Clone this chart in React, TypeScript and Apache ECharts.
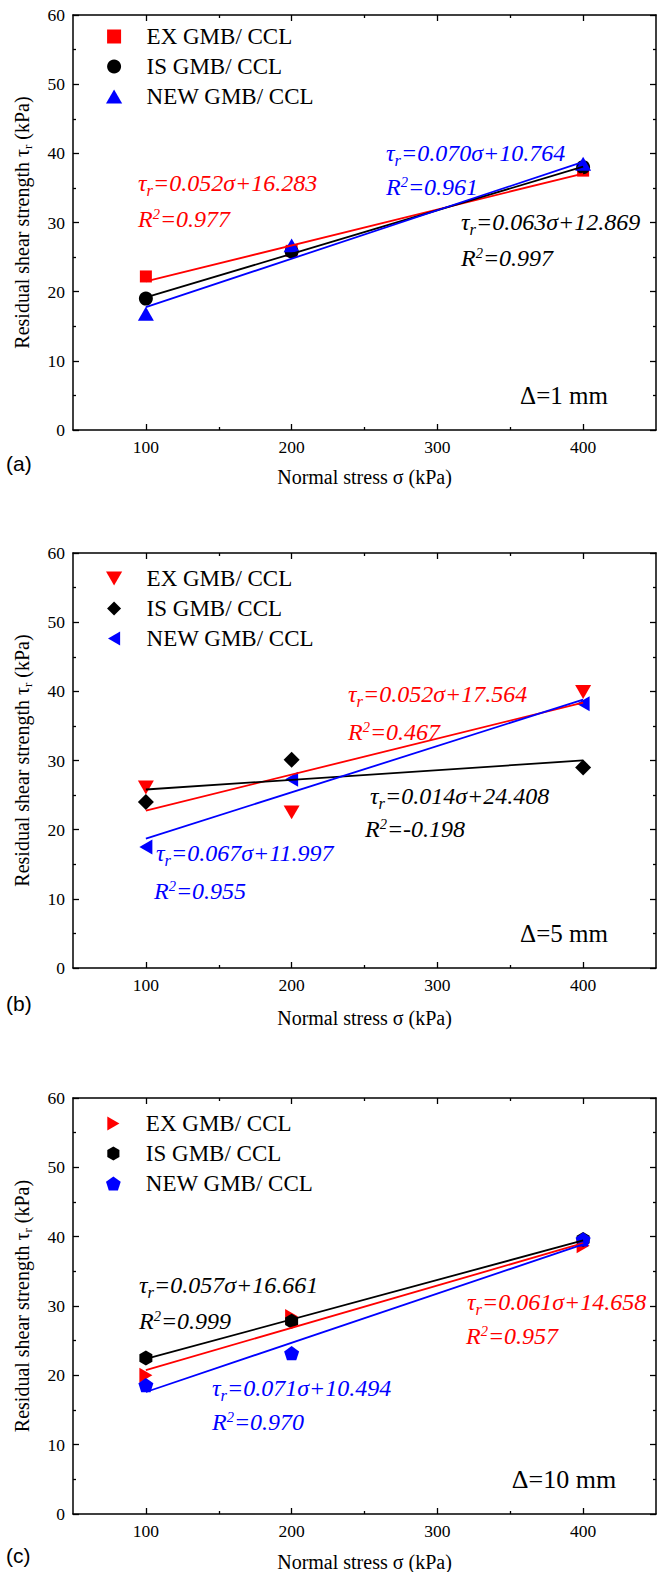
import React, { useEffect, useRef } from 'react';
import * as echarts from 'echarts';

const SERIF = '"Liberation Serif", "Times New Roman", serif';
const SANS = '"Liberation Sans", Arial, sans-serif';

// ---- data -------------------------------------------------------------
const stressKPa = [100, 200, 400];
const xTickValues = [100, 200, 300, 400];
const xMinorValues = [150, 250, 350];
const seriesNames = ['EX GMB/ CCL', 'IS GMB/ CCL', 'NEW GMB/ CCL'];
const seriesColors = ['#ff0000', '#000000', '#0000ff'];
const panelLetters = ['(a)', '(b)', '(c)'];
const displacementLabels = ['Δ=1 mm', 'Δ=5 mm', 'Δ=10 mm'];

// Δ = 1 mm
const exA = [22.2, 25.9, 37.5];
const isA = [19.0, 25.8, 38.0];
const newA = [16.8, 26.7, 38.5];
const slopeA = [0.052, 0.063, 0.070];
const interceptA = [16.283, 12.869, 10.764];
const r2A = ['0.977', '0.997', '0.961'];

// Δ = 5 mm
const exB = [26.1, 22.5, 39.9];
const isB = [24.0, 30.1, 29.0];
const newB = [17.5, 27.3, 38.2];
const slopeB = [0.052, 0.014, 0.067];
const interceptB = [17.564, 24.408, 11.997];
const r2B = ['0.467', '-0.198', '0.955'];

// Δ = 10 mm
const exC = [20.0, 28.5, 38.7];
const isC = [22.5, 27.8, 39.6];
const newC = [18.6, 23.2, 39.6];
const slopeC = [0.061, 0.057, 0.071];
const interceptC = [14.658, 16.661, 10.494];
const r2C = ['0.957', '0.999', '0.970'];

// ---- marker shapes ----------------------------------------------------
const SQUARE = 'path://M0,0 L10,0 L10,10 L0,10 Z';
const CIRCLE = 'circle';
const UP_TRI = 'path://M5,0 L10,8.66 L0,8.66 Z';
const DOWN_TRI = 'path://M0,0 L10,0 L5,8.66 Z';
const LEFT_TRI = 'path://M8.66,0 L8.66,10 L0,5 Z';
const RIGHT_TRI = 'path://M0,0 L0,10 L8.66,5 Z';
const DIAMOND = 'path://M5,0 L10,5 L5,10 L0,5 Z';
const HEXAGON = 'path://M5,0 L9.33,2.5 L9.33,7.5 L5,10 L0.67,7.5 L0.67,2.5 Z';
const PENTAGON = 'path://M5,0 L10,3.63 L8.09,9.51 L1.91,9.51 L0,3.63 Z';

const symbolsA = [SQUARE, CIRCLE, UP_TRI];
const symbolSizesA = [12, 14, 16];
const symbolsB = [DOWN_TRI, DIAMOND, LEFT_TRI];
const symbolSizesB = [16, 16, 15];
const symbolsC = [RIGHT_TRI, HEXAGON, PENTAGON];
const symbolSizesC = [15, 15, 15];

// ---- layout -----------------------------------------------------------
const GRID_LEFT = 73;
const GRID_WIDTH = 583;
const panelTop = [15, 553, 1098];
const panelHeight = [415, 415, 416];
const legendTop = [25, 567, 1112];
const letterOffset = [33, 35, 41];
const xNameOffset = [47, 49.5, 47.5];
const tagFontSize = [25, 25, 26];

// equation anchors (left, middle) for EX / IS / NEW
const eqPosA = [[138, 183], [461, 222], [386, 153]];
const r2PosA = [[138, 219], [461, 258], [386, 187]];
const eqPosB = [[348, 694], [370, 796], [156, 853]];
const r2PosB = [[348, 732], [365, 829], [154, 891]];
const eqPosC = [[467, 1302], [139, 1285], [212, 1388]];
const r2PosC = [[466, 1336], [139, 1321], [212, 1422]];

const panels = [
  { values: [exA, isA, newA], slopes: slopeA, intercepts: interceptA, r2: r2A, symbols: symbolsA, sizes: symbolSizesA, eqPos: eqPosA, r2Pos: r2PosA },
  { values: [exB, isB, newB], slopes: slopeB, intercepts: interceptB, r2: r2B, symbols: symbolsB, sizes: symbolSizesB, eqPos: eqPosB, r2Pos: r2PosB },
  { values: [exC, isC, newC], slopes: slopeC, intercepts: interceptC, r2: r2C, symbols: symbolsC, sizes: symbolSizesC, eqPos: eqPosC, r2Pos: r2PosC },
];

// each panel gets its own legend entries; trailing blanks keep the names distinct
const seriesLabel = (i: number, g: number) => seriesNames[i] + ' '.repeat(g);

const axisLineStyle = { color: '#000', width: 1.5 };
const tickLineStyle = { color: '#000', width: 1.3 };
const legendTextStyle = { fontFamily: SERIF, fontSize: 23, color: '#000' };

function buildXAxes(g: number) {
  const base = {
    gridIndex: g,
    type: 'value',
    min: 50,
    max: 450,
    interval: 50,
    splitLine: { show: false },
  };
  return [
    {
      ...base,
      position: 'bottom',
      axisLine: { show: true, onZero: false, lineStyle: axisLineStyle },
      axisTick: { show: true, inside: true, length: 6, customValues: xTickValues, lineStyle: tickLineStyle },
      axisLabel: { show: true, customValues: xTickValues, margin: 8, fontFamily: SERIF, fontSize: 17.5, color: '#000' },
    },
    {
      ...base,
      position: 'bottom',
      axisLine: { show: false, onZero: false },
      axisTick: { show: true, inside: true, length: 3, customValues: xMinorValues, lineStyle: tickLineStyle },
      axisLabel: { show: false },
    },
    {
      ...base,
      position: 'top',
      axisLine: { show: true, onZero: false, lineStyle: axisLineStyle },
      axisTick: { show: true, inside: true, length: 6, customValues: xTickValues, lineStyle: tickLineStyle },
      axisLabel: { show: false },
    },
    {
      ...base,
      position: 'top',
      axisLine: { show: false, onZero: false },
      axisTick: { show: true, inside: true, length: 3, customValues: xMinorValues, lineStyle: tickLineStyle },
      axisLabel: { show: false },
    },
  ];
}

function buildYAxes(g: number) {
  const base = {
    gridIndex: g,
    type: 'value',
    min: 0,
    max: 60,
    interval: 10,
    splitLine: { show: false },
    axisLine: { show: true, onZero: false, lineStyle: axisLineStyle },
    axisTick: { show: true, inside: true, length: 6, lineStyle: tickLineStyle },
    minorTick: { show: true, splitNumber: 2, length: 3, lineStyle: tickLineStyle },
    minorSplitLine: { show: false },
  };
  return [
    { ...base, position: 'left', axisLabel: { show: true, margin: 8, fontFamily: SERIF, fontSize: 17.5, color: '#000' } },
    { ...base, position: 'right', axisLabel: { show: false } },
  ];
}

function textEl(x: number, y: number, text: string, rich: any, opts: any = {}) {
  return {
    type: 'text',
    x,
    y,
    rotation: opts.rotation || 0,
    silent: true,
    z: 100,
    style: {
      text,
      rich,
      align: opts.align || 'left',
      verticalAlign: 'middle',
      textAlign: opts.align || 'left',
      textVerticalAlign: 'middle',
    },
  };
}

function equationRich(color: string) {
  return {
    t: { fontSize: 24, fontStyle: 'italic', fontFamily: SERIF, fill: color, verticalAlign: 'middle' },
    s: { fontSize: 16.5, fontStyle: 'italic', fontFamily: SERIF, fill: color, padding: [14, 0, 0, 0], verticalAlign: 'middle' },
    p: { fontSize: 14.5, fontStyle: 'italic', fontFamily: SERIF, fill: color, padding: [0, 0, 10, 0], verticalAlign: 'middle' },
  };
}

function buildOption() {
  const grid: any[] = [];
  const xAxis: any[] = [];
  const yAxis: any[] = [];
  const legend: any[] = [];
  const series: any[] = [];
  const graphic: any[] = [];

  panels.forEach((p, g) => {
    const top = panelTop[g];
    const bottom = top + panelHeight[g];
    grid.push({ left: GRID_LEFT, top, width: GRID_WIDTH, height: panelHeight[g], containLabel: false });
    xAxis.push(...buildXAxes(g));
    yAxis.push(...buildYAxes(g));

    // the legend box starts at the icon's own left edge (icon centred in the 55px slot)
    legend.push({
      orient: 'vertical',
      left: 106,
      top: legendTop[g],
      padding: 0,
      itemWidth: 55,
      itemHeight: 14,
      itemGap: 7,
      selectedMode: false,
      data: seriesNames.map((_, i) => ({
        name: seriesLabel(i, g),
        icon: p.symbols[i],
        textStyle: legendTextStyle,
      })),
      textStyle: legendTextStyle,
    });

    // measured points
    p.values.forEach((vals, i) => {
      series.push({
        type: 'scatter',
        name: seriesLabel(i, g),
        xAxisIndex: g * 4,
        yAxisIndex: g * 2,
        symbol: p.symbols[i],
        symbolSize: p.sizes[i],
        symbolKeepAspect: true,
        itemStyle: { color: seriesColors[i], opacity: 1 },
        data: stressKPa.map((x, k) => [x, vals[k]]),
        z: 2,
      });
    });

    // linear fits τr = aσ + b, drawn between the first and last normal stress
    p.slopes.forEach((a, i) => {
      const b = p.intercepts[i];
      const xs = [stressKPa[0], stressKPa[stressKPa.length - 1]];
      series.push({
        type: 'line',
        name: 'fit-' + g + '-' + i,
        xAxisIndex: g * 4,
        yAxisIndex: g * 2,
        showSymbol: false,
        symbol: 'none',
        silent: true,
        lineStyle: { color: seriesColors[i], width: 1.8 },
        data: xs.map((x) => [x, a * x + b]),
        z: 3,
      });

      const color = seriesColors[i];
      const [ex, ey] = p.eqPos[i];
      const [rx, ry] = p.r2Pos[i];
      graphic.push(
        textEl(ex, ey, `{t|τ}{s|r}{t|=${a.toFixed(3)}σ+${b.toFixed(3)}}`, equationRich(color))
      );
      graphic.push(textEl(rx, ry, `{t|R}{p|2}{t|=${p.r2[i]}}`, equationRich(color)));
    });

    // displacement tag
    graphic.push(
      textEl(564, bottom - 35, `{d|${displacementLabels[g]}}`, {
        d: { fontSize: tagFontSize[g], fontFamily: SERIF, fill: '#000' },
      }, { align: 'center' })
    );

    // panel letter
    graphic.push(
      textEl(6, bottom + letterOffset[g], `{l|${panelLetters[g]}}`, {
        l: { fontSize: 21, fontFamily: SANS, fill: '#000' },
      })
    );

    // axis titles
    graphic.push(
      textEl(GRID_LEFT + GRID_WIDTH / 2, bottom + xNameOffset[g], '{n|Normal stress σ (kPa)}', {
        n: { fontSize: 20, fontFamily: SERIF, fill: '#000' },
      }, { align: 'center' })
    );
    graphic.push(
      textEl(22, top + panelHeight[g] / 2, '{n|Residual shear strength τ}{s|r}{n| (kPa)}', {
        n: { fontSize: 20, fontFamily: SERIF, fill: '#000', verticalAlign: 'middle' },
        s: { fontSize: 13, fontFamily: SERIF, fill: '#000', padding: [10, 0, 0, 0], verticalAlign: 'middle' },
      }, { align: 'center', rotation: Math.PI / 2 })
    );
  });

  return {
    animation: false,
    backgroundColor: '#ffffff',
    grid,
    xAxis,
    yAxis,
    legend,
    series,
    graphic,
  };
}

export default function App() {
  const ref = useRef<HTMLDivElement>(null);
  useEffect(() => {
    if (!ref.current) return;
    const chart = echarts.init(ref.current, null, { renderer: 'svg' });
    chart.setOption(buildOption() as any);
    return () => chart.dispose();
  }, []);
  return (
    <div
      ref={ref}
      style={{ position: 'absolute', left: 0, top: 0, width: 662, height: 1572, background: '#fff' }}
    />
  );
}
